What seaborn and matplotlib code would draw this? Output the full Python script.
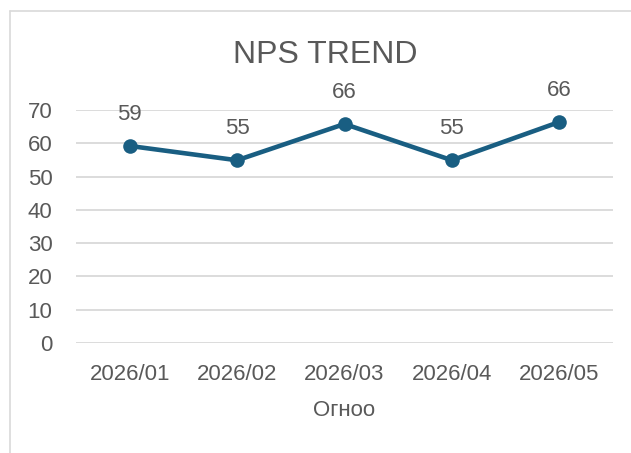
import numpy as np
import pandas as pd
import seaborn as sns
import matplotlib
matplotlib.use("Agg")
from matplotlib import pyplot as plt
from matplotlib.lines import Line2D

months = ["2026/01", "2026/02", "2026/03", "2026/04", "2026/05"]
nps = [59.2, 54.9, 65.8, 54.9, 66.4]
labels = ["59", "55", "66", "55", "66"]
yticks = [0, 10, 20, 30, 40, 50, 60, 70]

df = pd.DataFrame({"Огноо": months, "NPS": nps})

sns.set_theme(style="white")
plt.rcParams["font.family"] = ["Liberation Sans", "DejaVu Sans"]

line_color = "#195E82"
text_color = "#595959"
grid_color = "#D9D9D9"

fig = plt.figure(figsize=(6.31, 4.53), dpi=100)
ax = fig.add_axes([76 / 631, 1 - 343 / 453, (613 - 76) / 631, (343 - 110) / 453])

for y in yticks:
    ax.axhline(y, color=grid_color, lw=1.3, zorder=0)

sns.lineplot(data=df, x="Огноо", y="NPS", ax=ax, color=line_color, lw=3.3,
             marker="o", markersize=10.5, markeredgewidth=0, sort=False)

for i, (v, t) in enumerate(zip(nps, labels)):
    ax.annotate(t, (i, v), xytext=(0, 23), textcoords="offset points",
                ha="center", va="center", fontsize=16, color=text_color)

ax.set_xlim(-0.5, len(months) - 0.5)
ax.set_ylim(0, 70)
ax.set_yticks(yticks)
ax.tick_params(axis="both", length=0, labelsize=16, labelcolor=text_color)
ax.tick_params(axis="y", pad=17)
ax.tick_params(axis="x", pad=15)
ax.set_ylabel("")
ax.set_xlabel("Огноо", fontsize=16, color=text_color, labelpad=11)
for s in ax.spines.values():
    s.set_visible(False)

fig.text(325 / 631, 1 - 55 / 453, "NPS TREND", ha="center", va="center",
         fontsize=23, color=text_color)

# chart frame
fig.add_artist(Line2D([10 / 631, 10 / 631], [0, 1 - 11 / 453], color=grid_color, lw=1.2))
fig.add_artist(Line2D([10 / 631, 1], [1 - 11 / 453, 1 - 11 / 453], color=grid_color, lw=1.2))

fig.savefig("out.png", dpi=100, facecolor="white")
